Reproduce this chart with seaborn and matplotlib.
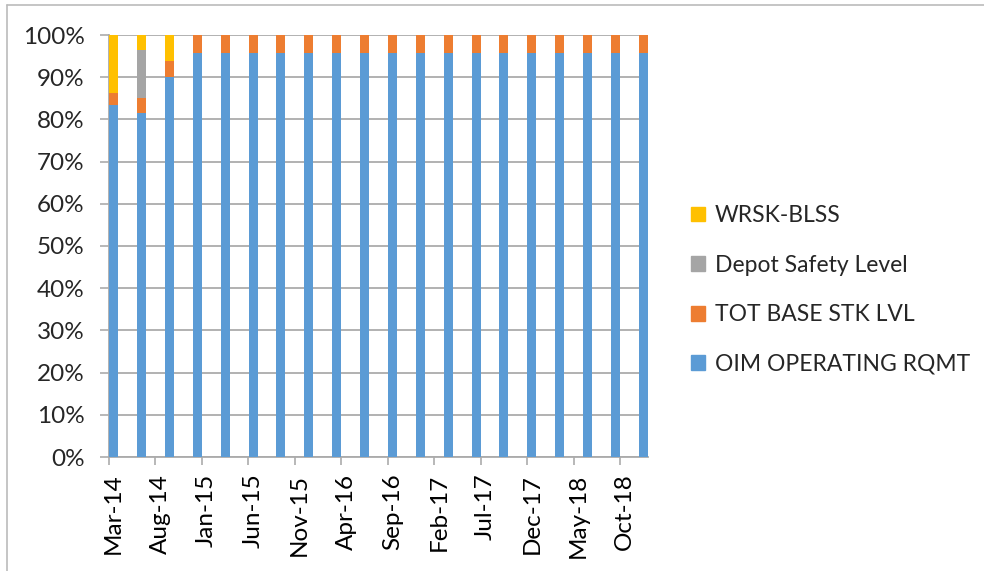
import matplotlib
matplotlib.use("Agg")
import pandas as pd
import matplotlib.pyplot as plt
import matplotlib.patches as mpatches
import seaborn as sns

# quarterly snapshots, Mar-14 .. Dec-18
periods = ["2014-03", "2014-06", "2014-09", "2014-12",
           "2015-03", "2015-06", "2015-09", "2015-12",
           "2016-03", "2016-06", "2016-09", "2016-12",
           "2017-03", "2017-06", "2017-09", "2017-12",
           "2018-03", "2018-06", "2018-09", "2018-12"]

# share of each component in percent
oim_operating = [83.4, 81.6, 90.0] + [95.8] * 17
tot_base_stk = [2.8, 3.5, 3.9] + [4.2] * 17
depot_safety = [0.0, 11.3, 0.0] + [0.0] * 17
wrsk_blss = [13.8, 3.6, 6.1] + [0.0] * 17

tick_labels = ["Mar-14", "Aug-14", "Jan-15", "Jun-15", "Nov-15", "Apr-16",
               "Sep-16", "Feb-17", "Jul-17", "Dec-17", "May-18", "Oct-18"]

series_names = ["OIM OPERATING RQMT", "TOT BASE STK LVL", "Depot Safety Level", "WRSK-BLSS"]
colors = ["#5B9BD5", "#ED7D31", "#A5A5A5", "#FFC000"]

sns.set_theme(style="white")
plt.rcParams["font.family"] = ["Lato", "DejaVu Sans"]
FS = 17.5

# months since the first period -> date axis position
start = pd.Period(periods[0], freq="M")
month_idx = [(pd.Period(p, freq="M") - start).n for p in periods]

df = pd.DataFrame({"month": month_idx,
                   "oim": oim_operating,
                   "tot": tot_base_stk,
                   "depot": depot_safety,
                   "wrsk": wrsk_blss})
df["c1"] = df["oim"]
df["c2"] = df["c1"] + df["tot"]
df["c3"] = df["c2"] + df["depot"]
df["c4"] = df["c3"] + df["wrsk"]

fig = plt.figure(figsize=(9.84, 5.71), dpi=100)
ax = fig.add_axes([109 / 984, (571 - 457) / 571, (648 - 109) / 984, (457 - 35) / 571])

# stacked look: draw cumulative totals from top layer down
for col, c in zip(["c4", "c3", "c2", "c1"], colors[::-1]):
    sns.barplot(data=df, x="month", y=col, native_scale=True, color=c,
                width=0.32, saturation=1, linewidth=0, ax=ax, zorder=3)

ax.set_xlim(-0.5, month_idx[-1] + 0.5)
ax.set_ylim(0, 100)
ax.set_yticks(range(0, 101, 10))
ax.set_yticklabels([f"{v}%" for v in range(0, 101, 10)])
ax.yaxis.grid(True, color="#ABABAB", linewidth=1.3, zorder=0)
ax.set_axisbelow(True)

label_pos = list(range(0, 56, 5))
ax.set_xticks(label_pos)
ax.set_xticklabels(tick_labels, rotation=90)
ax.set_xticks([p - 0.5 for p in label_pos], minor=True)
ax.tick_params(axis="x", which="major", length=0, pad=12, labelsize=FS, colors="black")
ax.tick_params(axis="x", which="minor", length=6, width=1.2, color="#ABABAB", bottom=True)
ax.tick_params(axis="y", length=6.5, width=1.2, color="#ABABAB", left=True, pad=11, labelsize=FS)
ax.set_xlabel("")
ax.set_ylabel("")

for side in ["top", "right"]:
    ax.spines[side].set_visible(False)
for side in ["left", "bottom"]:
    ax.spines[side].set_color("#ABABAB")
    ax.spines[side].set_linewidth(1.3)

handles = [mpatches.Patch(color=c, label=n) for n, c in zip(series_names, colors)][::-1]
fig.legend(handles=handles, loc="center left", bbox_to_anchor=(682 / 984, 1 - 290 / 571),
           borderaxespad=0, frameon=False, fontsize=16.5, handlelength=0.62, handleheight=0.62,
           handletextpad=0.4, labelspacing=1.25)

# chart frame (top and left edges visible)
fig.add_artist(plt.Line2D([7 / 984, 1], [1 - 5 / 571, 1 - 5 / 571], color="#BBBBBB", linewidth=1.2))
fig.add_artist(plt.Line2D([7 / 984, 7 / 984], [0, 1 - 5 / 571], color="#BBBBBB", linewidth=1.2))

fig.savefig("out.png", dpi=100)
